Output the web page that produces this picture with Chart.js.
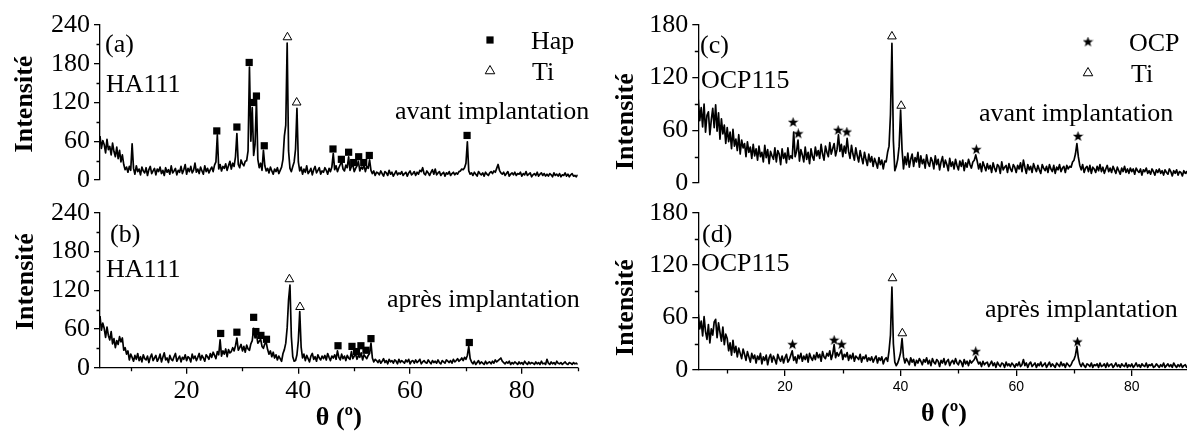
<!DOCTYPE html>
<html>
<head>
<meta charset="utf-8">
<script src="https://cdn.jsdelivr.net/npm/chart.js@4.4.0/dist/chart.umd.min.js"></script>
<style>
  html, body { margin: 0; padding: 0; background: #fff; overflow: hidden; }
  body { position: relative; width: 1187px; height: 434px; }
  canvas { position: absolute; left: 0; top: 0; }
</style>
</head>
<body>
<canvas id="chartA" width="1200" height="434"></canvas>
<canvas id="chartB" width="1200" height="434"></canvas>
<canvas id="chartC" width="1200" height="434"></canvas>
<canvas id="chartD" width="1200" height="434"></canvas>
<script>
// scan grid (theta, degrees)
const thetaStartHA = 4.5;
const thetaStartOCP = 5;
const thetaStep = 0.25;

// (a) HA111 avant implantation, 4.5 -> 90
const intensityA = [
  68,49,61,55,42,63,47,52,39,57,44,36,51,33,46,28,39,24,16,20,
  12,21,15,56,18,9,22,13,17,8,20,14,11,19,7,16,21,10,14,18,
  8,17,13,20,10,15,7,19,12,16,9,22,11,14,18,8,15,12,21,10,
  16,24,9,18,13,21,11,15,26,12,17,10,20,14,9,22,13,18,11,16,
  20,13,23,28,70,17,24,14,21,18,25,15,22,29,17,26,21,36,72,24,
  19,31,25,22,29,30,45,175,60,112,38,55,125,32,19,26,15,46,22,14,
  18,11,20,14,9,17,13,19,10,15,20,32,68,85,212,45,18,13,21,28,
  48,111,28,14,20,9,17,12,22,10,13,18,8,16,21,11,15,19,9,14,
  12,19,15,9,18,13,20,41,16,22,13,19,24,29,17,14,23,19,36,15,
  21,24,13,18,22,29,14,20,17,23,13,21,18,31,15,10,14,7,12,11,
  8,14,10,6,13,11,7,15,9,12,6,10,14,8,11,9,13,7,10,12,
  6,11,14,8,10,13,7,12,9,15,13,19,10,8,14,11,7,12,16,9,
  17,8,11,13,7,10,12,6,11,9,13,7,10,12,8,11,9,13,14,17,
  16,19,26,59,14,9,11,7,12,9,6,13,10,8,11,6,12,9,7,11,
  13,10,14,12,18,24,15,11,9,12,7,10,13,6,9,11,8,12,7,10,
  9,12,6,10,8,13,7,9,11,5,8,10,7,12,6,9,11,7,10,6,
  9,6,10,8,5,11,7,9,6,10,5,8,7,11,6,9,5,8,10,6,
  7,5,8
];

// (b) HA111 après implantation, 4.5 -> 90
const intensityB = [
  80,58,69,61,47,63,50,43,56,37,45,31,42,36,48,40,46,27,31,21,
  26,12,21,16,10,19,13,22,11,17,9,20,14,12,18,8,16,21,11,15,
  19,10,14,21,9,16,23,12,15,8,19,13,11,17,22,10,14,18,9,16,
  13,20,11,17,15,9,21,14,18,11,16,22,12,19,15,10,20,17,13,22,
  16,24,19,14,25,20,43,18,26,21,29,17,28,23,25,31,26,34,46,27,
  31,36,26,33,24,35,29,27,37,42,61,46,52,38,41,44,33,30,37,39,
  28,21,26,17,24,15,20,12,18,14,10,22,28,38,62,105,128,48,17,10,
  11,20,42,87,32,15,21,11,19,14,9,18,22,13,17,10,20,15,12,18,
  14,19,12,22,16,11,18,15,20,13,26,16,12,21,14,18,11,19,15,13,
  25,14,18,21,13,19,16,23,12,20,17,14,19,22,38,15,9,13,11,8,
  12,7,10,14,8,11,6,13,9,11,7,12,10,6,13,8,11,9,7,12,
  9,13,6,10,11,7,12,8,10,13,6,9,11,8,7,12,9,6,11,8,
  10,7,12,8,6,11,9,7,12,10,8,11,7,13,9,11,14,10,12,15,
  11,16,13,19,33,14,9,6,10,5,8,11,6,9,7,5,10,6,8,9,
  6,10,7,12,9,11,13,15,10,8,6,9,7,10,5,8,6,9,7,5,
  9,6,8,5,10,7,5,9,6,8,7,5,9,6,8,5,10,6,7,5,
  13,7,5,9,6,8,5,10,7,6,8,5,7,9,6,5,8,7,5,8,
  6,7,5
];

// (c) OCP115 avant implantation, 5 -> 90
const intensityC = [
  95,71,86,64,90,58,77,81,55,72,85,63,89,59,80,50,73,56,66,45,
  63,47,58,39,61,42,50,37,55,33,49,40,45,30,47,35,41,28,44,31,
  39,26,42,30,35,24,43,29,38,22,36,31,27,40,24,37,33,21,39,28,
  34,23,40,27,31,28,58,30,36,49,25,38,32,24,41,27,35,22,39,30,
  26,41,31,37,28,44,33,26,42,35,30,46,33,39,45,31,38,55,36,44,
  30,42,34,51,36,28,43,33,26,40,31,24,37,29,22,35,27,20,33,24,
  30,19,28,23,17,29,21,26,16,25,24,35,42,78,159,48,14,19,27,42,
  83,38,16,30,21,34,18,27,33,19,29,24,35,18,31,22,27,17,32,23,
  19,29,25,16,31,21,27,15,24,30,18,26,21,14,28,19,24,16,27,20,
  15,25,19,26,14,23,18,27,21,17,24,26,32,25,16,22,13,24,19,14,
  22,16,20,12,23,17,13,21,19,11,24,15,18,20,12,22,16,13,21,18,
  12,20,16,23,13,26,18,11,21,15,19,12,22,17,13,20,15,11,21,17,
  14,19,12,21,16,13,20,11,18,15,21,13,17,19,12,20,16,19,18,24,
  26,33,45,30,20,15,21,12,17,19,13,20,11,18,16,12,19,14,21,13,
  18,11,16,20,13,17,12,19,15,11,18,14,10,17,13,19,12,16,11,17,
  13,16,10,17,14,12,16,9,15,13,17,11,14,10,16,13,9,15,12,16,
  11,14,9,15,12,10,16,13,8,14,11,15,9,13,12,8,14,11,13,9,
  12
];

// (d) OCP115 après implantation, 5 -> 90
const intensityD = [
  64,47,56,39,61,44,35,52,31,47,40,55,58,37,54,43,33,49,29,41,
  36,22,31,17,34,20,27,15,25,19,13,24,18,11,21,15,9,19,13,17,
  8,16,12,19,7,15,11,17,6,14,18,9,16,12,7,18,13,10,16,8,
  14,18,9,12,17,22,11,15,8,17,13,19,10,16,12,18,9,19,14,11,
  17,12,20,14,18,10,21,15,13,19,16,22,12,18,29,14,20,16,19,23,
  12,18,15,20,11,17,13,19,10,16,14,12,18,9,15,13,17,10,14,11,
  15,9,13,16,8,14,11,15,7,12,14,10,22,40,95,30,9,5,8,13,
  20,36,15,8,13,10,6,14,9,12,5,11,8,13,10,6,12,9,14,7,
  11,5,13,9,7,12,10,4,11,8,13,6,10,12,5,9,11,7,13,8,
  6,11,9,4,12,7,10,5,11,8,10,12,16,11,7,9,4,10,6,8,
  9,4,7,10,5,8,3,9,6,4,8,7,3,9,5,7,4,8,6,3,
  7,5,9,4,6,12,5,8,3,7,9,4,6,8,3,7,5,9,4,6,
  8,3,6,9,4,7,5,3,8,6,4,9,5,7,3,8,6,4,6,10,
  12,17,27,14,7,4,8,5,3,7,6,4,8,3,6,5,7,3,8,4,
  5,7,3,8,4,6,7,3,5,8,4,6,3,7,5,4,8,3,6,4,
  7,3,5,8,4,6,3,7,5,4,8,3,6,5,7,3,4,7,5,3,
  6,4,8,3,5,7,4,6,3,8,5,3,6,4,7,3,5,6,3,5,
  5
];

// peak markers (theta, marker height)
const hapThetaA = [25.4, 29.0, 31.2, 31.8, 32.5, 33.9, 46.2, 47.7, 49.0, 49.9, 50.8, 51.7, 52.7, 70.2];
const hapIntA   = [76, 82, 182, 120, 130, 53, 48, 32, 43, 27, 36, 27, 38, 69];
const tiThetaA  = [38.05, 39.7];
const tiIntA    = [221, 120];

const hapThetaB = [26.1, 29.0, 32.0, 32.4, 33.3, 34.3, 47.1, 49.6, 50.4, 51.2, 52.1, 53.0, 70.6];
const hapIntB   = [53, 55, 78, 56, 50, 44, 34, 33, 25, 34, 27, 45, 39];
const tiThetaB  = [38.4, 40.3];
const tiIntB    = [137, 94];

const ocpThetaC = [21.4, 22.3, 29.2, 30.7, 53.1, 70.7];
const ocpIntC   = [69, 56, 60, 58, 38, 53];
const tiThetaC  = [38.5, 40.1];
const tiIntC    = [167, 88];

const ocpThetaD = [21.3, 28.5, 29.8, 53.0, 70.6];
const ocpIntD   = [29, 34, 29, 21, 32];
const tiThetaD  = [38.6, 40.3];
const tiIntD    = [105, 42];

// axis ticks
const thetaTicks = [20, 40, 60, 80];
const thetaMinor = [10, 30, 50, 70, 90];
const ticksHA = [0, 60, 120, 180, 240];
const minorHA = [30, 90, 150, 210];
const ticksOCP = [0, 60, 120, 180];
const minorOCP = [30, 90, 150];

const serif = 'Liberation Serif';

function toPoints(start, values) {
  return values.map((v, i) => ({ x: start + i * thetaStep, y: v }));
}
function toMarks(xs, ys) {
  return xs.map((x, i) => ({ x: x, y: ys[i] }));
}

function starImage(size) {
  const cv = document.createElement('canvas');
  cv.width = cv.height = size;
  const g = cv.getContext('2d');
  const r = size / 2, ri = r * 0.42;
  g.beginPath();
  for (let k = 0; k < 10; k++) {
    const a = -Math.PI / 2 + k * Math.PI / 5;
    const rr = k % 2 ? ri : r;
    g.lineTo(r + rr * Math.cos(a), r + rr * Math.sin(a));
  }
  g.closePath();
  g.fillStyle = '#000';
  g.fill();
  return cv;
}
const star = starImage(11);

// free text, legend symbols and minor ticks
const decor = {
  id: 'decor',
  afterDraw(chart, args, opts) {
    const c = chart.ctx;
    const xs = chart.scales.x, ys = chart.scales.y;
    c.save();
    c.strokeStyle = '#000';
    c.lineWidth = 1.3;
    c.beginPath();
    (opts.yMinor || []).forEach(v => {
      const y = Math.round(ys.getPixelForValue(v)) + 0.5;
      c.moveTo(ys.right - 3.5, y); c.lineTo(ys.right, y);
    });
    if (opts.xMinor) {
      opts.xMinor.forEach(v => {
        const x = Math.round(xs.getPixelForValue(v)) + 0.5;
        c.moveTo(x, xs.top); c.lineTo(x, xs.top + 3.5);
      });
    }
    c.stroke();
    c.restore();

    (opts.texts || []).forEach(t => {
      c.save();
      c.fillStyle = '#000';
      c.font = t.font;
      c.textBaseline = 'alphabetic';
      c.textAlign = t.rotate ? 'center' : 'left';
      c.translate(t.x, t.y);
      if (t.rotate) c.rotate(-Math.PI / 2);
      c.fillText(t.text, 0, 0);
      c.restore();
    });

    (opts.symbols || []).forEach(s => {
      c.save();
      if (s.kind === 'rect') {
        c.fillStyle = '#000';
        c.fillRect(s.x - 3.6, s.y - 3.6, 7.2, 7.2);
      } else if (s.kind === 'triangle') {
        const r = 5.5;
        c.beginPath();
        c.moveTo(s.x, s.y - r);
        c.lineTo(s.x + r * 0.866, s.y + r / 2);
        c.lineTo(s.x - r * 0.866, s.y + r / 2);
        c.closePath();
        c.fillStyle = '#fff'; c.fill();
        c.strokeStyle = '#000'; c.lineWidth = 1; c.stroke();
      } else {
        c.drawImage(star, s.x - star.width / 2, s.y - star.height / 2);
      }
      c.restore();
    });
  }
};

function makePanel(id, p) {
  return new Chart(document.getElementById(id), {
    type: 'line',
    data: {
      datasets: [{
        data: p.trace,
        borderColor: '#000',
        borderWidth: 1.7,
        borderJoinStyle: 'round',
        pointRadius: 0,
        tension: 0,
        fill: false
      }, {
        type: 'scatter',
        data: p.marks1,
        pointStyle: p.style1,
        pointRadius: p.style1 === 'rect' ? 5.1 : 6,
        backgroundColor: '#000',
        borderColor: '#000',
        borderWidth: 0,
        clip: false
      }, {
        type: 'scatter',
        data: p.marks2,
        pointStyle: 'triangle',
        pointRadius: 5,
        backgroundColor: '#fff',
        borderColor: '#000',
        borderWidth: 1,
        clip: false
      }]
    },
    options: {
      responsive: false,
      animation: false,
      events: [],
      layout: {
        padding: { left: 0, top: p.top, right: 1200 - p.right, bottom: p.showX ? 0 : 434 - p.bottom }
      },
      plugins: {
        legend: { display: false },
        tooltip: { enabled: false },
        decor: { texts: p.texts, symbols: p.symbols || [], yMinor: p.yMinor, xMinor: p.showX ? thetaMinor : null }
      },
      scales: {
        x: {
          type: 'linear',
          min: p.xMin,
          max: 90,
          display: p.showX,
          afterBuildTicks: s => { s.ticks = thetaTicks.map(v => ({ value: v })); },
          afterFit: s => { if (p.showX) s.height = 434 - p.bottom; },
          border: { display: true, color: '#000', width: 1.3 },
          grid: { drawOnChartArea: false, drawTicks: true, tickLength: 6, color: '#000', lineWidth: 1.3 },
          ticks: { color: '#000', font: p.xFont, padding: p.xPad, maxRotation: 0 },
          title: {
            display: p.showX,
            text: 'θ (º)',
            color: '#000',
            font: { family: serif, size: 26, weight: 'bold', lineHeight: 1.2 },
            padding: { top: 0, bottom: p.titlePad }
          }
        },
        y: {
          min: 0,
          max: p.yMax,
          afterBuildTicks: s => { s.ticks = p.yTicks.map(v => ({ value: v })); },
          afterFit: s => { s.width = p.left; },
          border: { display: true, color: '#000', width: 1.3 },
          grid: { drawOnChartArea: false, drawTicks: true, tickLength: 6, color: '#000', lineWidth: 1.3 },
          ticks: { color: '#000', font: { family: serif, size: 26 }, padding: 4 }
        }
      }
    },
    plugins: [decor]
  });
}

const textFont = '26px "' + serif + '"';
const titleFont = 'bold 26px "' + serif + '"';

makePanel('chartA', {
  left: 100, right: 577.7, top: 25, bottom: 180, xMin: 4.5, yMax: 240, showX: false,
  yTicks: ticksHA, yMinor: minorHA,
  trace: toPoints(thetaStartHA, intensityA),
  marks1: toMarks(hapThetaA, hapIntA), style1: 'rect',
  marks2: toMarks(tiThetaA, tiIntA),
  texts: [
    { text: '(a)', x: 105, y: 51.5, font: textFont },
    { text: 'HA111', x: 106, y: 92, font: textFont },
    { text: 'Hap', x: 531, y: 48.5, font: textFont },
    { text: 'Ti', x: 532, y: 80, font: textFont },
    { text: 'avant implantation', x: 395, y: 119, font: textFont },
    { text: 'Intensité', x: 32, y: 104, font: titleFont, rotate: true }
  ],
  symbols: [{ kind: 'rect', x: 490, y: 40 }, { kind: 'triangle', x: 490, y: 71 }]
});

makePanel('chartB', {
  left: 100, right: 577.7, top: 212.7, bottom: 367.7, xMin: 4.5, yMax: 240, showX: true,
  xFont: { family: serif, size: 26 }, xPad: 2, titlePad: 0,
  yTicks: ticksHA, yMinor: minorHA,
  trace: toPoints(thetaStartHA, intensityB),
  marks1: toMarks(hapThetaB, hapIntB), style1: 'rect',
  marks2: toMarks(tiThetaB, tiIntB),
  texts: [
    { text: '(b)', x: 110, y: 241.5, font: textFont },
    { text: 'HA111', x: 106, y: 276.5, font: textFont },
    { text: 'après implantation', x: 387, y: 306.7, font: textFont },
    { text: 'Intensité', x: 33, y: 281.7, font: titleFont, rotate: true }
  ]
});

makePanel('chartC', {
  left: 698.3, right: 1189.6, top: 25, bottom: 183, xMin: 5, yMax: 180, showX: false,
  yTicks: ticksOCP, yMinor: minorOCP,
  trace: toPoints(thetaStartOCP, intensityC),
  marks1: toMarks(ocpThetaC, ocpIntC), style1: star,
  marks2: toMarks(tiThetaC, tiIntC),
  texts: [
    { text: '(c)', x: 700, y: 53, font: textFont },
    { text: 'OCP115', x: 701, y: 88, font: textFont },
    { text: 'OCP', x: 1129, y: 50.7, font: textFont },
    { text: 'Ti', x: 1131, y: 81.7, font: textFont },
    { text: 'avant implantation', x: 979, y: 120.7, font: textFont },
    { text: 'Intensité', x: 633, y: 121.7, font: titleFont, rotate: true }
  ],
  symbols: [{ kind: 'star', x: 1088, y: 42 }, { kind: 'triangle', x: 1088, y: 73 }]
});

makePanel('chartD', {
  left: 698.3, right: 1189.6, top: 212.7, bottom: 370, xMin: 5, yMax: 180, showX: true,
  xFont: { family: 'Liberation Sans', size: 14 }, xPad: 3, titlePad: 4,
  yTicks: ticksOCP, yMinor: minorOCP,
  trace: toPoints(thetaStartOCP, intensityD),
  marks1: toMarks(ocpThetaD, ocpIntD), style1: star,
  marks2: toMarks(tiThetaD, tiIntD),
  texts: [
    { text: '(d)', x: 702, y: 241.7, font: textFont },
    { text: 'OCP115', x: 701, y: 270.7, font: textFont },
    { text: 'après implantation', x: 985, y: 316.7, font: textFont },
    { text: 'Intensité', x: 633, y: 307.5, font: titleFont, rotate: true }
  ]
});
</script>
</body>
</html>
